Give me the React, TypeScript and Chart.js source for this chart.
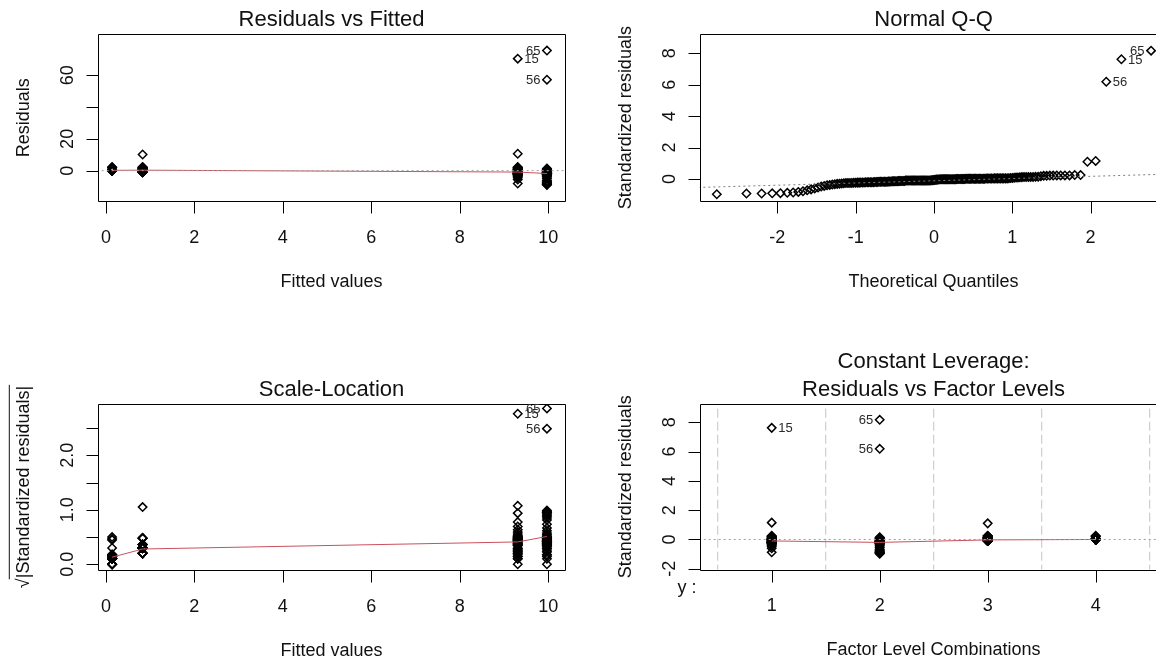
import React, { useEffect, useRef } from 'react';
import { Chart, registerables } from 'chart.js';

Chart.register(...registerables);

const FONT = '"Liberation Sans", Arial, "DejaVu Sans", sans-serif';

// ---------------- data ----------------
const levelLabels = ['1', '2', '3', '4'];
const levelFitted = [9.31, 9.97, 0.83, 0.14];
const residualScale = 9.25;

const level1StdResid = [
  1.15, -0.88, -0.6, -0.48, -0.4, -0.35, -0.31, -0.28, -0.26, -0.25, -0.24,
  -0.23, -0.22, -0.21, -0.2, -0.2, -0.19, -0.18, -0.17, -0.16, -0.15, -0.14,
  -0.13, -0.12, -0.08, -0.06, -0.05, -0.04, -0.03, -0.02, -0.01, 0.0, 0.01,
  0.02, 0.04, 0.06, 0.07, 0.09, 0.12, 0.14, 0.18, 0.2, 0.22, 0.25,
];
const level2StdResid = [
  -0.97, -0.92, -0.92, -0.91, -0.9, -0.86, -0.82, -0.78, -0.72, -0.66, -0.54,
  -0.44, -0.38, -0.33, -0.3, -0.27, -0.26, -0.25, -0.24, -0.23, -0.22, -0.22,
  -0.21, -0.2, -0.2, -0.19, -0.19, -0.18, -0.18, -0.17, -0.17, -0.17, -0.16,
  -0.16, -0.15, -0.14, -0.14, -0.13, -0.13, -0.12, -0.12, -0.1, -0.08, -0.06,
  -0.03, -0.02, 0.0, 0.01, 0.03, 0.05, 0.08, 0.11, 0.15,
];
const level3StdResid = [
  1.1,
  -0.09, -0.09, -0.09, -0.09, -0.09, -0.09, -0.09, -0.09, -0.09, -0.09, -0.09,
  -0.09, -0.09, -0.09, -0.09, -0.09, -0.09, -0.09, -0.09, -0.09, -0.09, -0.09,
  0.04, 0.04, 0.04, 0.04, 0.04, 0.04, 0.04, 0.04,
  0.13, 0.13, 0.13, 0.13, 0.13,
  0.23, 0.23, 0.23, 0.23,
];
const level4StdResid = [
  -0.01, -0.01, -0.01, -0.01, -0.01, -0.01, -0.01, -0.01, -0.01, -0.01, -0.01, -0.01,
  0.0, 0.0, 0.0, 0.0, 0.0, 0.0,
  0.01, 0.01, 0.01, 0.01, 0.01, 0.01, 0.01,
  0.02, 0.02, 0.02, 0.02, 0.02, 0.02,
  0.03, 0.03, 0.03, 0.03, 0.03,
  0.09, 0.2, 0.22, 0.25,
];

const outlierIds = ['65', '15', '56'];
const outlierLevels = [2, 1, 2];
const outlierStdResid = [8.17, 7.62, 6.19];

const rvfLabelSide = ['left', 'right', 'left'];
const qqLabelSide = ['left', 'right', 'right'];
const slLabelSide = ['left', 'right', 'left'];
const levLabelSide = ['left', 'right', 'left'];

const rvfSmoothX = [0.14, 0.83, 9.31, 9.97];
const rvfSmoothY = [0.2, 0.3, -0.9, -1.8];
const slSmoothY = [0.13, 0.28, 0.41, 0.51];
const levSmoothX = [1, 2, 3, 4];
const levSmoothY = [-0.1, -0.2, -0.03, 0.0];
const qqLineX = [-3.2, 3.2];
const qqLineY = [-0.565, 0.34];
const levelBoundaries = [0.5, 1.5, 2.5, 3.5, 4.5];

const fittedTicks = [0, 2, 4, 6, 8, 10];
const fittedTickLabels = ['0', '2', '4', '6', '8', '10'];
const residTicks = [0, 20, 40, 60];
const residTickLabels = ['0', '20', '', '60'];
const qqXTicks = [-2, -1, 0, 1, 2];
const qqXTickLabels = ['-2', '-1', '0', '1', '2'];
const stdTicks = [0, 2, 4, 6, 8];
const stdTickLabels = ['0', '2', '4', '6', '8'];
const sqrtTicks = [0, 0.5, 1, 1.5, 2, 2.5];
const sqrtTickLabels = ['0.0', '', '1.0', '', '2.0', ''];
const levelTicks = [1, 2, 3, 4];
const levStdTicks = [-2, 0, 2, 4, 6, 8];
const levStdTickLabels = ['-2', '0', '2', '4', '6', '8'];

// ---------------- helpers ----------------
const levelStd = [level1StdResid, level2StdResid, level3StdResid, level4StdResid];

function qnorm(p: number): number {
  const a = [-39.69683028665376, 220.9460984245205, -275.9285104469687, 138.357751867269, -30.66479806614716, 2.506628277459239];
  const b = [-54.47609879822406, 161.5858368580409, -155.6989798598866, 66.80131188771972, -13.28068155288572];
  const c = [-0.007784894002430293, -0.3223964580411365, -2.400758277161838, -2.549732539343734, 4.374664141464968, 2.938163982698783];
  const d = [0.007784695709041462, 0.3224671290700398, 2.445134137142996, 3.754408661907416];
  const plow = 0.02425;
  if (p < plow) {
    const q = Math.sqrt(-2 * Math.log(p));
    return (((((c[0] * q + c[1]) * q + c[2]) * q + c[3]) * q + c[4]) * q + c[5]) / ((((d[0] * q + d[1]) * q + d[2]) * q + d[3]) * q + 1);
  }
  if (p > 1 - plow) {
    const q = Math.sqrt(-2 * Math.log(1 - p));
    return -(((((c[0] * q + c[1]) * q + c[2]) * q + c[3]) * q + c[4]) * q + c[5]) / ((((d[0] * q + d[1]) * q + d[2]) * q + d[3]) * q + 1);
  }
  const q = p - 0.5;
  const r = q * q;
  return ((((((a[0] * r + a[1]) * r + a[2]) * r + a[3]) * r + a[4]) * r + a[5]) * q) /
    (((((b[0] * r + b[1]) * r + b[2]) * r + b[3]) * r + b[4]) * r + 1);
}

function collect(fn: (levelIdx: number, s: number) => { x: number; y: number }) {
  const pts: { x: number; y: number }[] = [];
  levelStd.forEach((arr, li) => arr.forEach((s) => pts.push(fn(li, s))));
  outlierStdResid.forEach((s, k) => pts.push(fn(outlierLevels[k] - 1, s)));
  return pts;
}

const RED = '#c8505c';

function pointsDataset(data: any[]) {
  return {
    data,
    showLine: false,
    pointStyle: 'rectRot',
    pointRadius: 4.2,
    pointBorderWidth: 1.5,
    pointBorderColor: '#000',
    pointBackgroundColor: 'rgba(0,0,0,0)',
    borderColor: '#000',
    backgroundColor: 'rgba(0,0,0,0)',
  };
}
function lineDataset(data: any[], color: string, dash: number[] = []) {
  return {
    data,
    showLine: true,
    borderColor: color,
    borderWidth: 1,
    borderDash: dash,
    pointRadius: 0,
    tension: 0,
    fill: false,
  };
}
function zip(xs: number[], ys: number[]) {
  return xs.map((x, i) => ({ x, y: ys[i] }));
}

// ---------------- panel specs ----------------
const rvfPoints = collect((li, s) => ({ x: levelFitted[li], y: s * residualScale }));
const slPoints = collect((li, s) => ({ x: levelFitted[li], y: Math.sqrt(Math.abs(s)) }));
const levPoints = collect((li, s) => ({ x: li + 1, y: s }));
const qqSorted = collect((li, s) => ({ x: 0, y: s })).map((p) => p.y).sort((a, b) => a - b);
const qqPoints = qqSorted.map((y, i) => ({ x: qnorm((i + 0.5) / qqSorted.length), y }));

const specs: any[] = [
  {
    key: 'rvf', left: 0, top: 0, width: 578, height: 330,
    pad: { left: 97.8, top: 34.3, right: 12.7, bottom: 129 },
    x: [-0.183, 10.385], y: [-19.1, 85.8],
    xTicks: fittedTicks, xTickLabels: fittedTickLabels,
    yTicks: residTicks, yTickLabels: residTickLabels,
    title: ['Residuals vs Fitted'], xTitle: 'Fitted values', yTitle: 'Residuals',
    datasets: [
      lineDataset([{ x: -1, y: 0 }, { x: 11, y: 0 }], '#a0a0a0', [2, 3]),
      lineDataset(zip(rvfSmoothX, rvfSmoothY), RED),
      pointsDataset(rvfPoints),
    ],
    pointLabels: outlierIds.map((id, k) => ({
      x: levelFitted[outlierLevels[k] - 1], y: outlierStdResid[k] * residualScale, text: id, side: rvfLabelSide[k],
    })),
  },
  {
    key: 'qq', left: 578, top: 0, width: 640, height: 330,
    pad: { left: 121.8, top: 34.3, right: 50.7, bottom: 129 },
    x: [-2.99, 2.98], y: [-1.4, 9.21],
    xTicks: qqXTicks, xTickLabels: qqXTickLabels,
    yTicks: stdTicks, yTickLabels: stdTickLabels,
    title: ['Normal Q-Q'], xTitle: 'Theoretical Quantiles', yTitle: 'Standardized residuals',
    datasets: [
      lineDataset(zip(qqLineX, qqLineY), '#7f7f7f', [2, 3]),
      pointsDataset(qqPoints),
    ],
    pointLabels: outlierIds.map((id, k) => {
      const idx = qqSorted.lastIndexOf(outlierStdResid[k]);
      return { x: qqPoints[idx].x, y: qqPoints[idx].y, text: id, side: qqLabelSide[k] };
    }),
  },
  {
    key: 'sl', left: 0, top: 330, width: 578, height: 330,
    pad: { left: 97.8, top: 74, right: 12.7, bottom: 90 },
    x: [-0.183, 10.385], y: [-0.105, 2.94],
    xTicks: fittedTicks, xTickLabels: fittedTickLabels,
    yTicks: sqrtTicks, yTickLabels: sqrtTickLabels,
    title: ['Scale-Location'], xTitle: 'Fitted values', yTitle: '√|Standardized residuals|', sqrtTitle: true,
    datasets: [
      lineDataset(zip(rvfSmoothX, slSmoothY), RED),
      pointsDataset(slPoints),
    ],
    pointLabels: outlierIds.map((id, k) => ({
      x: levelFitted[outlierLevels[k] - 1], y: Math.sqrt(outlierStdResid[k]), text: id, side: slLabelSide[k],
    })),
  },
  {
    key: 'lev', left: 578, top: 330, width: 640, height: 330,
    pad: { left: 121.8, top: 74, right: 50.7, bottom: 90.5 },
    x: [0.334, 4.663], y: [-2.05, 9.25],
    xTicks: levelTicks, xTickLabels: levelLabels,
    yTicks: levStdTicks, yTickLabels: levStdTickLabels,
    title: ['Constant Leverage:', 'Residuals vs Factor Levels'],
    xTitle: 'Factor Level Combinations', yTitle: 'Standardized residuals',
    extraTexts: [{ text: 'y :', dx: -22.2, dy: 23 }],
    datasets: [
      lineDataset([{ x: 0, y: 0 }, { x: 5, y: 0 }], '#a0a0a0', [2, 3]),
      lineDataset(zip(levSmoothX, levSmoothY), RED),
      pointsDataset(levPoints),
      ...levelBoundaries.map((b) => lineDataset([{ x: b, y: -5 }, { x: b, y: 12 }], '#c4c4c4', [9, 4])),
    ],
    pointLabels: outlierIds.map((id, k) => ({
      x: outlierLevels[k], y: outlierStdResid[k], text: id, side: levLabelSide[k],
    })),
  },
];

// ---------------- drawing ----------------
function drawDecor(chart: any, spec: any) {
  const ctx: CanvasRenderingContext2D = chart.ctx;
  const a = chart.chartArea;
  const xs = chart.scales.x;
  const ys = chart.scales.y;
  const L = Math.round(a.left) + 0.5;
  const R = Math.round(a.right) + 0.5;
  const T = Math.round(a.top) + 0.5;
  const B = Math.round(a.bottom) + 0.5;
  ctx.save();
  ctx.setLineDash([]);
  ctx.strokeStyle = '#000';
  ctx.lineWidth = 1;
  ctx.beginPath();
  ctx.rect(L, T, R - L, B - T);
  ctx.stroke();
  ctx.beginPath();
  spec.xTicks.forEach((t: number) => {
    const px = Math.round(xs.getPixelForValue(t)) + 0.5;
    ctx.moveTo(px, B);
    ctx.lineTo(px, B + 12);
  });
  spec.yTicks.forEach((t: number) => {
    const py = Math.round(ys.getPixelForValue(t)) + 0.5;
    ctx.moveTo(L - 12, py);
    ctx.lineTo(L, py);
  });
  ctx.stroke();

  ctx.fillStyle = '#111';
  ctx.font = `18px ${FONT}`;
  ctx.textAlign = 'center';
  ctx.textBaseline = 'alphabetic';
  spec.xTicks.forEach((t: number, i: number) => {
    const lab = spec.xTickLabels[i];
    if (lab) ctx.fillText(lab, xs.getPixelForValue(t), a.bottom + 41.7);
  });
  spec.yTicks.forEach((t: number, i: number) => {
    const lab = spec.yTickLabels[i];
    if (!lab) return;
    ctx.save();
    ctx.translate(a.left - 24.5, ys.getPixelForValue(t));
    ctx.rotate(-Math.PI / 2);
    ctx.fillText(lab, 0, 0);
    ctx.restore();
  });
  const cx = (a.left + a.right) / 2;
  const cy = (a.top + a.bottom) / 2;
  ctx.fillText(spec.xTitle, cx, a.bottom + 85.7);
  ctx.save();
  ctx.translate(a.left - 69, cy);
  ctx.rotate(-Math.PI / 2);
  ctx.fillText(spec.yTitle, 0, 0);
  if (spec.sqrtTitle) {
    const w = ctx.measureText(spec.yTitle).width;
    const sw = ctx.measureText('√').width;
    ctx.beginPath();
    ctx.strokeStyle = '#111';
    ctx.moveTo(-w / 2 + sw - 1, -19.5);
    ctx.lineTo(w / 2 + 1, -19.5);
    ctx.stroke();
  }
  ctx.restore();

  (spec.extraTexts || []).forEach((e: any) => {
    ctx.textAlign = 'left';
    ctx.fillText(e.text, a.left + e.dx, a.bottom + e.dy);
  });

  ctx.textAlign = 'center';
  ctx.font = `22px ${FONT}`;
  const n = spec.title.length;
  spec.title.forEach((line: string, i: number) => {
    ctx.fillText(line, cx, a.top - 8 - (n - 1 - i) * 28.5);
  });

  ctx.font = `13px ${FONT}`;
  ctx.fillStyle = '#2a2a2a';
  ctx.textBaseline = 'middle';
  spec.pointLabels.forEach((p: any) => {
    const px = xs.getPixelForValue(p.x);
    const py = ys.getPixelForValue(p.y);
    if (p.side === 'left') {
      ctx.textAlign = 'right';
      ctx.fillText(p.text, px - 6.5, py + 1);
    } else {
      ctx.textAlign = 'left';
      ctx.fillText(p.text, px + 6.5, py + 1);
    }
  });
  ctx.restore();
}

function Panel({ spec }: { spec: any }) {
  const ref = useRef<HTMLCanvasElement | null>(null);
  useEffect(() => {
    if (!ref.current) return;
    const chart = new Chart(ref.current, {
      type: 'scatter',
      data: { datasets: spec.datasets },
      options: {
        animation: false,
        responsive: false,
        maintainAspectRatio: false,
        devicePixelRatio: 1,
        events: [],
        layout: { padding: spec.pad },
        plugins: {
          legend: { display: false },
          tooltip: { enabled: false },
          title: { display: false },
        },
        scales: {
          x: { type: 'linear', min: spec.x[0], max: spec.x[1], display: false },
          y: { type: 'linear', min: spec.y[0], max: spec.y[1], display: false },
        },
      } as any,
      plugins: [{ id: 'decor-' + spec.key, afterDraw: (c: any) => drawDecor(c, spec) }],
    });
    return () => chart.destroy();
  }, [spec]);
  return (
    <canvas
      ref={ref}
      width={spec.width}
      height={spec.height}
      style={{ position: 'absolute', left: spec.left, top: spec.top, width: spec.width, height: spec.height }}
    />
  );
}

export default function App() {
  return (
    <div
      style={{
        position: 'fixed', left: 0, top: 0, width: 1156, height: 660,
        overflow: 'hidden', background: '#fff',
      }}
    >
      {specs.map((s) => (
        <Panel key={s.key} spec={s} />
      ))}
    </div>
  );
}
